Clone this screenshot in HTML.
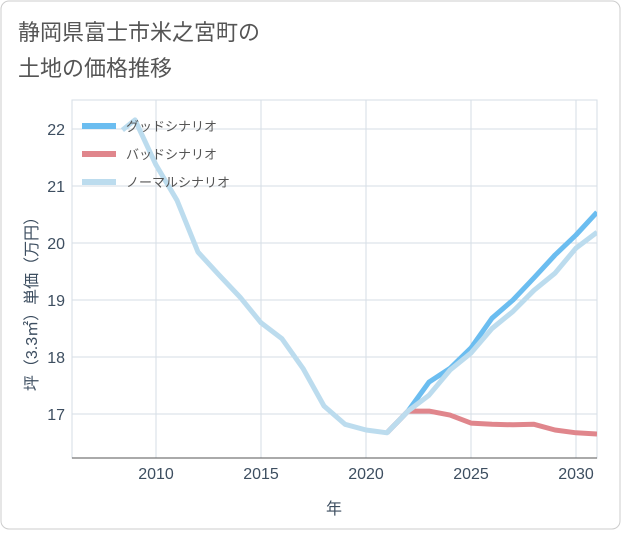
<!DOCTYPE html>
<html><head><meta charset="utf-8"><style>
body{margin:0;background:#fff;}
#wrap{width:621px;height:530px;position:relative;font-family:"Liberation Sans","Noto Sans CJK JP",sans-serif;}
</style></head><body>
<div id="wrap">
<svg id="chart" width="621" height="530" xmlns="http://www.w3.org/2000/svg">
<rect x="1" y="1" width="619" height="528" rx="8" fill="#fff" stroke="#cccccc"/>
<text x="18" y="40" font-size="22" fill="#555" font-family="Liberation Sans, Noto Sans CJK JP, sans-serif">静岡県富士市米之宮町の</text>
<text x="18" y="76" font-size="22" fill="#555" font-family="Liberation Sans, Noto Sans CJK JP, sans-serif">土地の価格推移</text>
<g id="grid"></g><g id="series"></g><g id="axes"></g><g id="legend"></g>
</svg></div>
<script>
const years = [2008.4,2009,2010,2011,2012,2013,2014,2015,2016,2017,2018,2019,2020,2021,2022,2023,2024,2025,2026,2027,2028,2029,2030,2031];
const normal = [21.98,22.16,21.37,20.75,19.84,19.44,19.05,18.6,18.32,17.8,17.14,16.82,16.72,16.67,17.05,17.33,17.77,18.07,18.5,18.8,19.17,19.47,19.91,20.19];
const goodYears = [2021,2022,2023,2024,2025,2026,2027,2028,2029,2030,2031];
const good = [16.67,17.05,17.56,17.8,18.16,18.68,19.0,19.39,19.79,20.14,20.54];
const bad = [16.67,17.05,17.05,16.98,16.84,16.82,16.81,16.82,16.72,16.67,16.65];
const xTicks = [2010,2015,2020,2025,2030];
const yTicks = [17,18,19,20,21,22];
const L=72,R=597,T=100,B=458;
const X=v=>L+(v-2006)*(R-L)/25;
const Y=v=>414-(v-17)*57;
const ns="http://www.w3.org/2000/svg";
function mk(p,tag,a){const e=document.createElementNS(ns,tag);for(const k in a)e.setAttribute(k,a[k]);p.appendChild(e);return e;}
const grid=document.getElementById('grid'),axes=document.getElementById('axes'),ser=document.getElementById('series'),leg=document.getElementById('legend');
const bg=mk(grid,'rect',{x:L,y:T,width:R-L,height:B-T,fill:'#fff',stroke:'#d5dde5'});


xTicks.forEach(t=>{const l=mk(grid,'line',{x1:X(t),x2:X(t),y1:T,y2:B,stroke:'#d5dde5'});


const tx=mk(axes,'text',{x:X(t),y:B+21,'text-anchor':'middle','font-size':16,fill:'#3d4e60'});tx.textContent=t;

});
yTicks.forEach(t=>{const l=mk(grid,'line',{x1:L,x2:R,y1:Y(t),y2:Y(t),stroke:'#d5dde5'});


const tx=mk(axes,'text',{x:L-7,y:Y(t)+6,'text-anchor':'end','font-size':16,fill:'#3d4e60'});tx.textContent=t;

});
const ax=mk(axes,'line',{x1:L,x2:R,y1:B,y2:B,stroke:'#555'});


const xt=mk(axes,'text',{x:334,y:514,'text-anchor':'middle','font-size':16,fill:'#3d4e60'});xt.textContent='年';


const yt=mk(axes,'text',{x:0,y:0,'text-anchor':'middle','font-size':16,fill:'#3d4e60',transform:'translate(37,300) rotate(-90)'});yt.textContent='坪（3.3㎡）単価（万円）';


const cp=mk(ser,'clipPath',{id:'cp'});mk(cp,'rect',{x:L,y:T,width:R-L,height:B-T});
function line(xs,vs,col,name){const d=xs.map((x,i)=>(i?'L':'M')+X(x).toFixed(1)+','+Y(vs[i]).toFixed(1)).join('');
const p=mk(ser,'path',{d:d,fill:'none',stroke:col,'stroke-width':5,'stroke-linejoin':'round','clip-path':'url(#cp)'});

}
line(goodYears,good,'#6bbdf0','good-scenario-line');
line(goodYears,bad,'#e0868c','bad-scenario-line');
line(years,normal,'#bcdcee','normal-scenario-line');
[['グッドシナリオ','#6bbdf0'],['バッドシナリオ','#e0868c'],['ノーマルシナリオ','#bcdcee']].forEach((e,i)=>{
const y=126+i*28;
const l=mk(leg,'line',{x1:82,x2:116,y1:y,y2:y,stroke:e[1],'stroke-width':6});


const t=mk(leg,'text',{x:126,y:y+5,'font-size':13,fill:'#555'});t.textContent=e[0];

});
</script>
</body></html>
